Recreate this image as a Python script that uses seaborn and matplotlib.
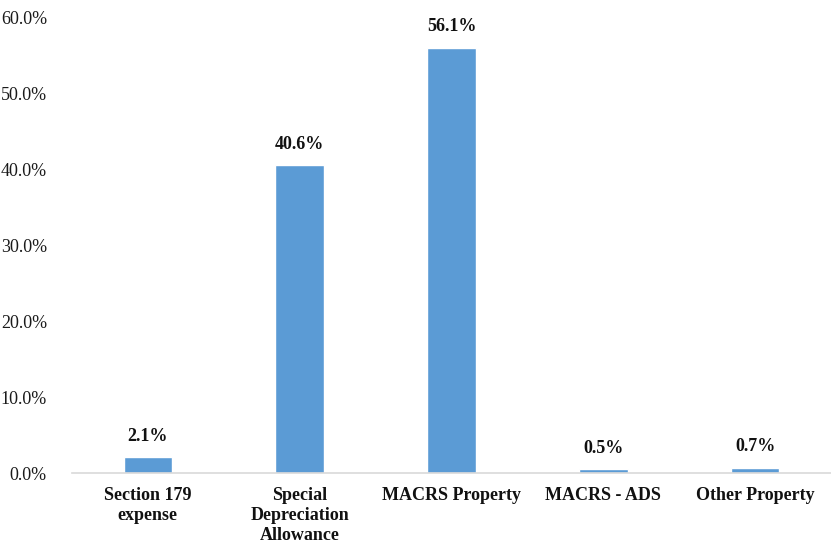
import matplotlib
matplotlib.use("Agg")
import matplotlib.pyplot as plt
import seaborn as sns
import pandas as pd

categories = ["Section 179\nexpense", "Special\nDepreciation\nAllowance", "MACRS Property", "MACRS - ADS", "Other Property"]
values = [2.1, 40.6, 56.1, 0.5, 0.7]
yticks = [0, 10, 20, 30, 40, 50, 60]

sns.set_theme(style="white")
plt.rcParams['font.family'] = ['Liberation Serif', 'DejaVu Serif']

df = pd.DataFrame({"cat": categories, "val": values})

fig = plt.figure(figsize=(8.31, 5.44), dpi=100)
ax = fig.add_axes([0.0866, 0.1305, 0.9134, 0.8365])
sns.barplot(data=df, x="cat", y="val", color="#5B9BD5", saturation=1, width=0.32, ax=ax)

ax.set_ylim(0, 60)
ax.set_yticks(yticks)
ax.set_yticklabels([f"{t:.1f}%" for t in yticks], fontsize=13, color="#1a1a1a")
ax.set_xticks(range(len(categories)))
ax.set_xticklabels(categories, fontsize=13, fontweight="bold", color="#111111", linespacing=1.25)
ax.set_xlim(-0.5, len(categories) - 0.5)
ax.set_xlabel("")
ax.set_ylabel("")
ax.tick_params(axis="y", length=0, pad=18)
ax.tick_params(axis="x", length=0, pad=10)
for s in ["left", "right", "top"]:
    ax.spines[s].set_visible(False)
ax.spines["bottom"].set_color("#D9D9D9")
ax.spines["bottom"].set_linewidth(1.2)
ax.grid(False)

for i, v in enumerate(values):
    ax.annotate(f"{v:.1f}%", (i, v), xytext=(0, 9), textcoords="offset points",
                ha="center", va="bottom", fontsize=13, fontweight="bold", color="#111111")

fig.savefig("out.png", dpi=100)
